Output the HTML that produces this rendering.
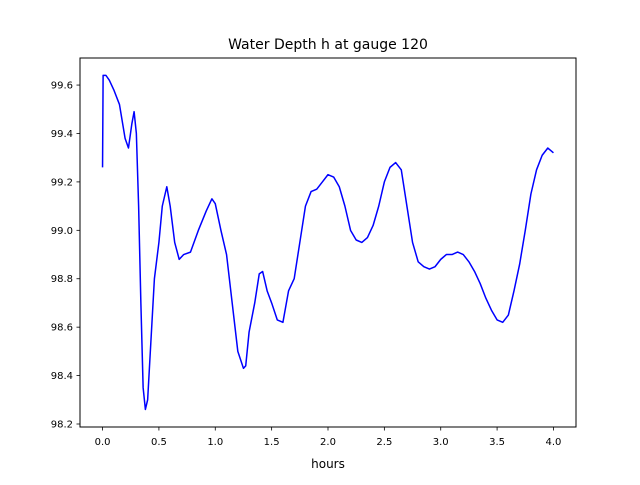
<!DOCTYPE html>
<html><head><meta charset="utf-8"><style>
body{margin:0;background:#fff;}
svg text{font-family:"DejaVu Sans","Liberation Sans",sans-serif;fill:#000;}
</style></head><body>
<svg id="chart" width="640" height="480" xmlns="http://www.w3.org/2000/svg">
<rect width="640" height="480" fill="#fff"/>
<text x="328" y="49" font-size="14" text-anchor="middle">Water Depth h at gauge 120</text>
<g id="plot"></g>
<rect x="80" y="58" width="496" height="369" fill="none" stroke="#000" stroke-width="1"/>
<text x="328" y="468" font-size="12" text-anchor="middle">hours</text>
</svg>
<script>
const xValues=[0,0.005,0.03,0.06,0.1,0.15,0.2,0.23,0.26,0.28,0.3,0.32,0.34,0.36,0.38,0.4,0.43,0.46,0.5,0.53,0.57,0.6,0.64,0.68,0.72,0.78,0.85,0.92,0.97,1.0,1.05,1.1,1.15,1.2,1.25,1.27,1.3,1.35,1.39,1.42,1.46,1.5,1.55,1.6,1.65,1.7,1.75,1.8,1.85,1.9,1.95,2.0,2.05,2.1,2.15,2.2,2.25,2.3,2.35,2.4,2.45,2.5,2.55,2.6,2.65,2.7,2.75,2.8,2.85,2.9,2.95,3.0,3.05,3.1,3.15,3.2,3.25,3.3,3.35,3.4,3.45,3.5,3.55,3.6,3.65,3.7,3.75,3.8,3.85,3.9,3.95,4.0];
const depthValues=[99.26,99.64,99.64,99.62,99.58,99.52,99.38,99.34,99.44,99.49,99.40,99.1,98.7,98.35,98.26,98.3,98.55,98.8,98.95,99.1,99.18,99.1,98.95,98.88,98.9,98.91,99.0,99.08,99.13,99.11,99.0,98.9,98.7,98.5,98.43,98.44,98.58,98.7,98.82,98.83,98.75,98.7,98.63,98.62,98.75,98.8,98.95,99.1,99.16,99.17,99.2,99.23,99.22,99.18,99.1,99.0,98.96,98.95,98.97,99.02,99.1,99.2,99.26,99.28,99.25,99.1,98.95,98.87,98.85,98.84,98.85,98.88,98.9,98.9,98.91,98.9,98.87,98.83,98.78,98.72,98.67,98.63,98.62,98.65,98.75,98.86,99.0,99.15,99.25,99.31,99.34,99.32];
const xTicks=[0,0.5,1,1.5,2,2.5,3,3.5,4];
const xTickLabels=["0.0","0.5","1.0","1.5","2.0","2.5","3.0","3.5","4.0"];
const yTicks=[98.2,98.4,98.6,98.8,99.0,99.2,99.4,99.6];
const yTickLabels=["98.2","98.4","98.6","98.8","99.0","99.2","99.4","99.6"];

const NS="http://www.w3.org/2000/svg";
function xs(v){return 80+(v+0.2)/4.4*496;}
function ys(v){return 424-(v-98.2)*242.1;}
const svg=document.getElementById('chart');
const plot=document.getElementById('plot');
function mk(t,a){const e=document.createElementNS(NS,t);for(const k in a)e.setAttribute(k,a[k]);return e;}
const line=mk('polyline',{points:xValues.map((x,i)=>xs(x).toFixed(2)+','+ys(depthValues[i]).toFixed(2)).join(' '),fill:'none',stroke:'#0000ff','stroke-width':1.5,'stroke-linejoin':'round'});


plot.appendChild(line);
xTicks.forEach((t,i)=>{
  const x=xs(t);
  const tk=mk('line',{x1:x,x2:x,y1:427,y2:430.5,stroke:'#000','stroke-width':0.8});
  
  
  svg.appendChild(tk);
  const tx=mk('text',{x:x,y:445,'font-size':10,'text-anchor':'middle'});
  
  
  tx.textContent=xTickLabels[i];svg.appendChild(tx);
});
yTicks.forEach((t,i)=>{
  const y=ys(t);
  const tk=mk('line',{x1:76.5,x2:80,y1:y,y2:y,stroke:'#000','stroke-width':0.8});
  
  
  svg.appendChild(tk);
  const tx=mk('text',{x:73,y:y+3.5,'font-size':10,'text-anchor':'end'});
  
  
  tx.textContent=yTickLabels[i];svg.appendChild(tx);
});
</script>
</body></html>
